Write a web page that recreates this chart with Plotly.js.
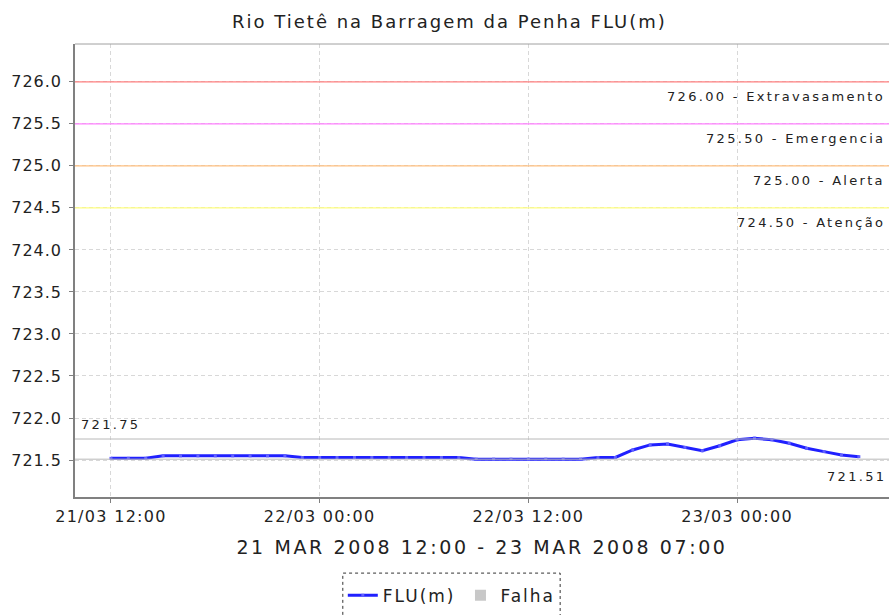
<!DOCTYPE html>
<html><head><meta charset="utf-8">
<script src="https://cdn.plot.ly/plotly-3.0.1.min.js"></script>
<style>
body{margin:0;background:#fff}#c{width:890px;height:615px}
.gtitle{letter-spacing:2px}
.xtitle{letter-spacing:2.6px}
.xtick text{letter-spacing:1.3px}
.ytick text{letter-spacing:1px}
.annotation-text{letter-spacing:2.3px}
.legendtext{letter-spacing:2px}
</style>
</head><body><div id="c"></div>
<script>
// Data (hourly readings, FLU in m)
const times = [
 '2008-03-21 12:00','2008-03-21 13:00','2008-03-21 14:00','2008-03-21 15:00','2008-03-21 16:00','2008-03-21 17:00',
 '2008-03-21 18:00','2008-03-21 19:00','2008-03-21 20:00','2008-03-21 21:00','2008-03-21 22:00','2008-03-21 23:00',
 '2008-03-22 00:00','2008-03-22 01:00','2008-03-22 02:00','2008-03-22 03:00','2008-03-22 04:00','2008-03-22 05:00',
 '2008-03-22 06:00','2008-03-22 07:00','2008-03-22 08:00','2008-03-22 09:00','2008-03-22 10:00','2008-03-22 11:00',
 '2008-03-22 12:00','2008-03-22 13:00','2008-03-22 14:00','2008-03-22 15:00','2008-03-22 16:00','2008-03-22 17:00',
 '2008-03-22 18:00','2008-03-22 19:00','2008-03-22 20:00','2008-03-22 21:00','2008-03-22 22:00','2008-03-22 23:00',
 '2008-03-23 00:00','2008-03-23 01:00','2008-03-23 02:00','2008-03-23 03:00','2008-03-23 04:00','2008-03-23 05:00',
 '2008-03-23 06:00','2008-03-23 07:00'];
const flu = [
 721.52,721.52,721.52,721.55,721.55,721.55,
 721.55,721.55,721.55,721.55,721.55,721.53,
 721.53,721.53,721.53,721.53,721.53,721.53,
 721.53,721.53,721.53,721.51,721.51,721.51,
 721.51,721.51,721.51,721.51,721.53,721.53,
 721.62,721.68,721.69,721.65,721.61,721.67,
 721.74,721.76,721.74,721.70,721.64,721.60,
 721.56,721.54];
const thresholds = [726.0, 725.5, 725.0, 724.5];
const thresholdLabels = ['726.00 - Extravasamento','725.50 - Emergencia','725.00 - Alerta','724.50 - Atenção'];
const thresholdColors = ['#ff8080','#ff80ff','#ffc080','#ffff80'];
const maxVal = 721.75, minVal = 721.51;
const xTickVals = ['2008-03-21 12:00','2008-03-22 00:00','2008-03-22 12:00','2008-03-23 00:00'];
const xTickText = ['21/03 12:00','22/03 00:00','22/03 12:00','23/03 00:00'];
const yTickVals = [721.5,722.0,722.5,723.0,723.5,724.0,724.5,725.0,725.5,726.0];

const font = 'DejaVu Sans, sans-serif';
const shapes = [], annotations = [];
thresholds.forEach((v,i)=>{
  shapes.push({type:'line',xref:'paper',x0:0,x1:1,yref:'y',y0:v,y1:v,line:{color:thresholdColors[i],width:1.3}});
  annotations.push({xref:'paper',x:0.997,xanchor:'right',yref:'y',y:v,yanchor:'top',yshift:-5,
    text:thresholdLabels[i],showarrow:false,font:{family:font,size:13,color:'#222'}});
});
shapes.push({type:'line',xref:'paper',x0:0,x1:1,yref:'y',y0:maxVal,y1:maxVal,line:{color:'#b8b8b8',width:1}});
shapes.push({type:'line',xref:'paper',x0:0,x1:1,yref:'y',y0:minVal,y1:minVal,line:{color:'#b8b8b8',width:1}});
annotations.push({xref:'paper',x:0.005,xanchor:'left',yref:'y',y:maxVal,yanchor:'bottom',yshift:5,
  text:maxVal.toFixed(2),showarrow:false,font:{family:font,size:13,color:'#222'}});
annotations.push({xref:'paper',x:0.999,xanchor:'right',yref:'y',y:minVal,yanchor:'top',yshift:-8,
  text:minVal.toFixed(2),showarrow:false,font:{family:font,size:13,color:'#222'}});
// dashed legend border
shapes.push({type:'rect',xref:'paper',yref:'paper',x0:0.329,x1:0.596,y0:-0.262,y1:-0.168,
  line:{color:'#333',width:1,dash:'dot'}});

const traces = [
  {x:times,y:flu,type:'scatter',mode:'lines+markers',name:'FLU(m)',
   line:{color:'#2020ff',width:3},marker:{symbol:'square',size:3,color:'#6060ff'}},
  {x:[null],y:[null],type:'scatter',mode:'markers',name:'Falha',
   marker:{symbol:'square',size:11,color:'#c8c8c8'}}
];

const layout = {
  width:890,height:615,paper_bgcolor:'#fff',plot_bgcolor:'#fff',
  margin:{l:75,r:1,t:44,b:118},
  title:{text:'Rio Tietê na Barragem da Penha FLU(m)',x:0.505,xanchor:'center',y:0.964,yanchor:'middle',
    font:{family:font,size:18,color:'#222'}},
  showlegend:true,
  legend:{orientation:'h',x:0.329,xanchor:'left',y:-0.178,yanchor:'top',
    font:{family:font,size:17,color:'#222'},itemwidth:30,tracegroupgap:0,bgcolor:'rgba(0,0,0,0)'},
  xaxis:{type:'date',range:['2008-03-21 09:56','2008-03-23 08:44'],tickvals:xTickVals,ticktext:xTickText,
    showgrid:true,gridcolor:'#d8d8d8',griddash:'4px,3px',gridwidth:1,
    showline:true,linecolor:'#808080',linewidth:1.5,mirror:false,
    ticks:'outside',ticklen:4,tickcolor:'#808080',zeroline:false,
    tickfont:{family:font,size:16,color:'#222'},
    title:{text:'21 MAR 2008 12:00 - 23 MAR 2008 07:00',standoff:16,font:{family:font,size:19,color:'#222'}}},
  yaxis:{range:[721.06,726.45],tickvals:yTickVals,ticktext:yTickVals.map(v=>v.toFixed(1)),
    showgrid:true,gridcolor:'#d8d8d8',griddash:'4px,3px',gridwidth:1,
    showline:true,linecolor:'#808080',linewidth:1.5,
    ticks:'outside',ticklen:4,tickcolor:'#808080',zeroline:false,ticklabelstandoff:4,
    tickfont:{family:font,size:16,color:'#222'}},
  shapes:shapes.concat([{type:'line',xref:'paper',yref:'paper',x0:0,x1:1,y0:1,y1:1,line:{color:'#a0a0a0',width:1}}]),
  annotations:annotations
};
Plotly.newPlot('c',traces,layout,{displayModeBar:false});
</script></body></html>
